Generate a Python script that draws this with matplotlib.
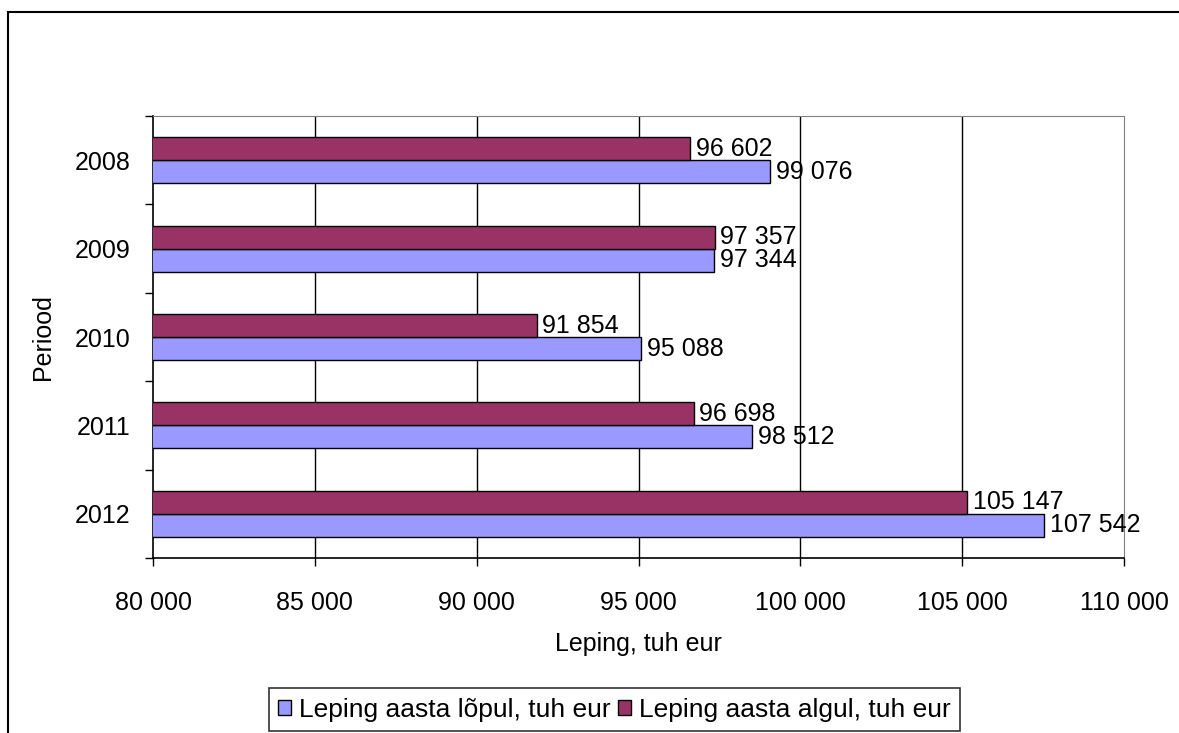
import numpy as np
import matplotlib.pyplot as plt
from matplotlib.patches import Rectangle

plt.rcParams['font.family'] = ['Liberation Sans', 'DejaVu Sans']

# data
years = ['2008', '2009', '2010', '2011', '2012']
leping_lopul = [99076, 97344, 95088, 98512, 107542]   # blue
leping_algul = [96602, 97357, 91854, 96698, 105147]   # purple
xticks = [80000, 85000, 90000, 95000, 100000, 105000, 110000]

FS = 18


def fmt(v):
    return '{:,}'.format(v).replace(',', ' ')


fig = plt.figure(figsize=(11.79, 7.33), dpi=100)
ax = fig.add_axes([0.1298, 0.2387, 0.8236, 0.603])

# outer chart border (open at right and bottom like the reference crop)
fig.patches.append(Rectangle((8 / 1179, -0.05), 1.2, 0.05 + (733 - 12) / 733,
                             transform=fig.transFigure, fill=False,
                             edgecolor='black', lw=1.5, clip_on=False))

y = np.arange(len(years))
h = 0.26
b1 = ax.barh(y + h / 2, leping_lopul, height=h, color='#9999FF',
             edgecolor='black', lw=1, label='Leping aasta lõpul, tuh eur', zorder=3)
b2 = ax.barh(y - h / 2, leping_algul, height=h, color='#993366',
             edgecolor='black', lw=1, label='Leping aasta algul, tuh eur', zorder=3)

for bars, vals in ((b1, leping_lopul), (b2, leping_algul)):
    for bar, v in zip(bars, vals):
        ax.annotate(fmt(v), (v, bar.get_y() + bar.get_height() / 2),
                    xytext=(4, 0), textcoords='offset points',
                    va='center', ha='left', fontsize=FS, zorder=4)

ax.set_xlim(80000, 110000)
ax.set_ylim(len(years) - 0.5, -0.5)
ax.set_xticks(xticks)
ax.set_xticklabels([fmt(v) for v in xticks], fontsize=FS)
ax.set_yticks(y)
ax.set_yticklabels(years, fontsize=FS)
ax.set_yticks(np.arange(len(years) + 1) - 0.5, minor=True)
ax.tick_params(axis='y', which='major', length=0, pad=16)
ax.tick_params(axis='y', which='minor', length=6, width=1, direction='out')
ax.tick_params(axis='x', length=6, width=1, direction='out', pad=18)

for xv in xticks[1:-1]:
    ax.axvline(xv, color='black', lw=1, zorder=1)

ax.spines['top'].set_color('#808080')
ax.spines['right'].set_color('#808080')
for s in ('left', 'bottom'):
    ax.spines[s].set_color('black')
    ax.spines[s].set_linewidth(1.2)

ax.set_xlabel('Leping, tuh eur', fontsize=FS, labelpad=12)
ax.set_ylabel('Periood', fontsize=FS, labelpad=14)

leg = fig.legend(handles=[b1, b2], loc='center', ncol=2,
                 bbox_to_anchor=(614.5 / 1179, 0.032), fontsize=19,
                 frameon=True, fancybox=False, edgecolor='black',
                 handlelength=0.48, handleheight=0.48, handletextpad=0.3,
                 columnspacing=0.3, borderpad=0.35, borderaxespad=0)
leg.get_frame().set_linewidth(1.2)

fig.savefig('out.png', dpi=100)
